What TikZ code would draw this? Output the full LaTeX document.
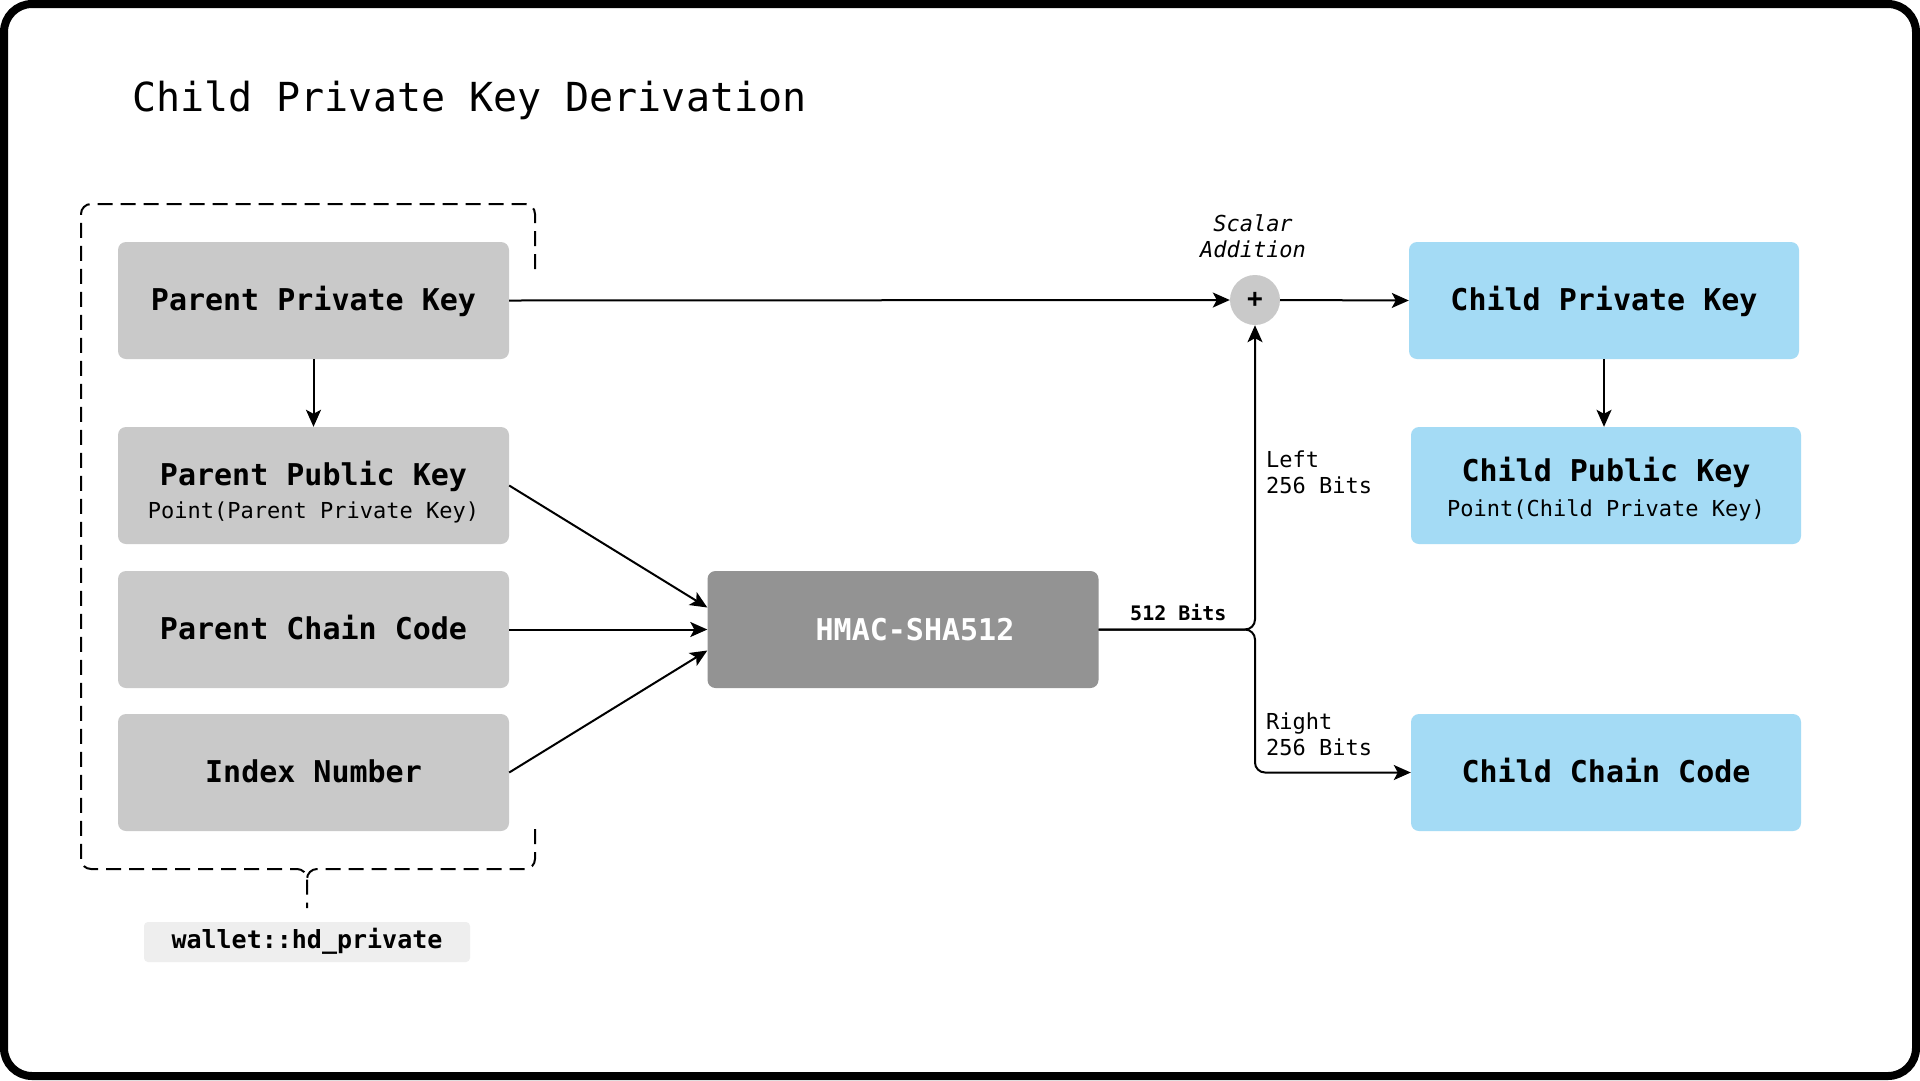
\documentclass[tikz,border=0pt]{standalone}
\usepackage{fontspec}
\setmonofont{DejaVu Sans Mono}
\usetikzlibrary{arrows.meta}
\definecolor{boxgray}{RGB}{201,201,201}
\definecolor{hmacgray}{RGB}{147,147,147}
\definecolor{childblue}{RGB}{164,219,245}
\definecolor{labelgray}{RGB}{238,238,238}
\tikzset{
  box/.style={rectangle, rounded corners=8pt, minimum width=391pt, minimum height=117pt,
    inner sep=0pt, text height=20pt, text depth=0pt,
    font=\ttfamily\bfseries\fontsize{30}{36}\selectfont},
  graybox/.style={box, fill=boxgray},
  bluebox/.style={box, fill=childblue},
  hmacbox/.style={box, fill=hmacgray, text=white},
  boldtxt/.style={inner sep=0pt, anchor=base, font=\ttfamily\bfseries\fontsize{30}{36}\selectfont},
  subtxt/.style={inner sep=0pt, anchor=base, font=\ttfamily\fontsize{22}{26}\selectfont},
  smalltxt/.style={inner sep=0pt, anchor=base west, font=\ttfamily\fontsize{22}{26}\selectfont},
  itxt/.style={inner sep=0pt, anchor=base, font=\ttfamily\itshape\fontsize{22}{26}\selectfont},
  arr/.style={-{Stealth[length=17pt,width=15pt,inset=4pt]}, line width=2pt},
  bracket/.style={line width=2pt, dash pattern=on 15pt off 8pt, rounded corners=10pt},
}
\begin{document}
\begin{tikzpicture}[x=1pt,y=-1pt]
\useasboundingbox (0,0) rectangle (1920,1080);
\fill[white] (0,0) rectangle (1920,1080);
\draw[line width=8pt, rounded corners=28pt] (4,4) rectangle (1916,1076);

% title
\node[inner sep=0pt, anchor=base west, font=\ttfamily\fontsize{40}{48}\selectfont] (title) at (132,111) {Child Private Key Derivation};

% dashed bracket
\draw[bracket] (535,269) -- (535,204) -- (81,204) -- (81,869) -- (307,869) -- (307,908);
\draw[bracket] (535,829) -- (535,869) -- (307,869) -- (307,886);

% left boxes
\node[graybox] (ppk) at (313.5,300.5) {Parent Private Key};
\node[graybox] (pubk) at (313.5,485.5) {};
\node[boldtxt] (pubkt) at (313.5,485) {Parent Public Key};
\node[subtxt] (pubks) at (313.5,518) {Point(Parent Private Key)};
\node[graybox] (pcc) at (313.5,629.5) {Parent Chain Code};
\node[graybox] (idx) at (313.5,772.5) {Index Number};

% label
\node[rectangle, rounded corners=4pt, fill=labelgray, minimum width=326pt, minimum height=40pt,
  inner sep=0pt, text height=12pt, text depth=0pt,
  font=\ttfamily\bfseries\fontsize{25}{30}\selectfont] (lbl) at (307,942) {wallet::hd\_private};

% HMAC
\node[hmacbox] (hmac) at (903,629.5) {};
\node[inner sep=0pt, anchor=base, text=white, font=\ttfamily\bfseries\fontsize{30}{36}\selectfont] (hmact) at (915,640) {HMAC-SHA512};

% plus
\node[circle, fill=boxgray, minimum size=50pt, inner sep=0pt,
  font=\ttfamily\bfseries\fontsize{26}{30}\selectfont] (plus) at (1255,300) {+};
\node[itxt] (sc1) at (1253,231) {Scalar};
\node[itxt] (sc2) at (1253,257) {Addition};

% child boxes
\node[bluebox, minimum width=390pt] (cpk) at (1604,300.5) {Child Private Key};
\node[bluebox, minimum width=390pt] (cpub) at (1606,485.5) {};
\node[boldtxt] (cpubt) at (1606,481) {Child Public Key};
\node[subtxt] (cpubs) at (1606,516) {Point(Child Private Key)};
\node[bluebox, minimum width=390pt] (ccc) at (1606,772.5) {Child Chain Code};

% labels on branch
\node[inner sep=0pt, anchor=base west, font=\ttfamily\bfseries\fontsize{20}{24}\selectfont] (bits) at (1130,620) {512 Bits};
\node[smalltxt] (l1) at (1266,467) {Left};
\node[smalltxt] (l2) at (1266,493) {256 Bits};
\node[smalltxt] (r1) at (1266,729) {Right};
\node[smalltxt] (r2) at (1266,755) {256 Bits};

% connectors
\coordinate (junc) at (1255,629.5);
\draw[arr] (ppk.east) -- (plus.west);
\draw[arr] (plus.east) -- (cpk.west);
\draw[arr] (ppk.south) -- (pubk.north);
\draw[arr] (cpk.south) -- (cpub.north -| cpk.south);
\draw[arr] (pubk.east) -- ([yshift=22pt]hmac.west);
\draw[arr] (pcc.east) -- (hmac.west);
\draw[arr] (idx.east) -- ([yshift=-21pt]hmac.west);
\draw[arr, rounded corners=10pt] (hmac.east) -- (junc) -- (plus.south);
\draw[arr, rounded corners=10pt] (hmac.east) -- (junc) -- (junc |- ccc.west) -- (ccc.west);
\end{tikzpicture}
\end{document}
